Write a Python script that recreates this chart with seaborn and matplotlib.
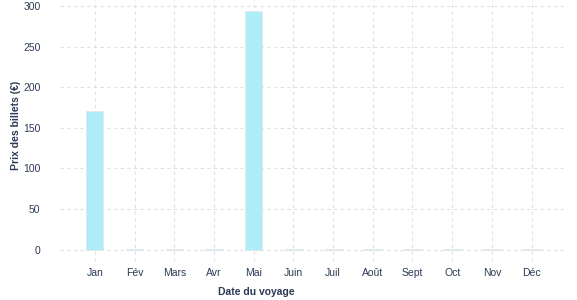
import matplotlib
matplotlib.use("Agg")
import matplotlib.pyplot as plt
import seaborn as sns
import pandas as pd

months = ["Jan", "Fév", "Mars", "Avr", "Mai", "Juin", "Juil", "Août", "Sept", "Oct", "Nov", "Déc"]
prices = [171, 1, 1, 1, 294, 1, 1, 1, 1, 1, 1, 1]
yticks = [0, 50, 100, 150, 200, 250, 300]

df = pd.DataFrame({"Mois": months, "Prix": prices})

sns.set_theme(style="white")
plt.rcParams['font.family'] = ['Liberation Sans', 'DejaVu Sans']

text_color = "#2b3a55"
fig = plt.figure(figsize=(5.77, 3.0), dpi=100)
ax = fig.add_axes([0.104, 0.13, 0.875, 0.87])

sns.barplot(data=df, x="Mois", y="Prix", color="#aeedf8", saturation=1,
            width=0.43, ax=ax, edgecolor="#e2e6ea", linewidth=0.6, zorder=3)

ax.set_xlim(-0.88, 11.84)
ax.set_ylim(-14, 307.4)
ax.set_yticks(yticks)
ax.set_yticklabels([str(v) for v in yticks])
ax.grid(True, axis="both", linestyle=(0, (3, 3)), color="#e0e0e0", linewidth=0.8, zorder=0)
ax.set_axisbelow(True)
for s in ax.spines.values():
    s.set_visible(False)
ax.tick_params(axis="both", length=0, labelsize=7.5, colors=text_color, pad=14)
ax.tick_params(axis="x", pad=5)

ax.set_xlabel("Date du voyage", fontsize=7.5, fontweight="bold", color=text_color)
ax.set_ylabel("Prix des billets (€)", fontsize=7.5, fontweight="bold", color=text_color)
ax.xaxis.set_label_coords(0.388, -0.1)
ax.yaxis.set_label_coords(-0.078, 0.52)

fig.savefig("out.png", dpi=100)
